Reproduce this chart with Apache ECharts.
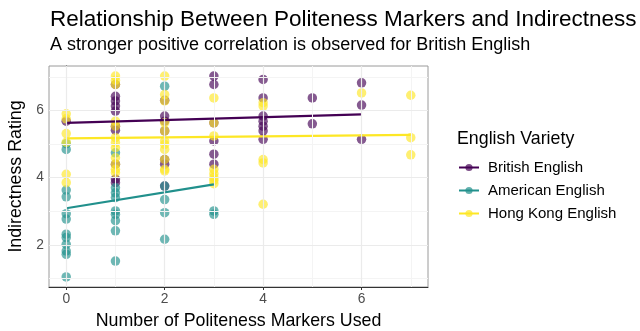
<!DOCTYPE html>
<html>
<head>
<meta charset="utf-8">
<script src="https://cdn.jsdelivr.net/npm/echarts@6/dist/echarts.min.js"></script>
<style>
  html, body { margin: 0; padding: 0; background: #fff; }
  #chart { width: 640px; height: 331px; }
</style>
</head>
<body>
<div id="chart"></div>
<script>
// 各英语变体的数据点（礼貌标记数量, 间接程度评分）
var variety_names = ['British English', 'American English', 'Hong Kong English'];
var variety_colors = ['#440154', '#21908C', '#FDE725'];

var british_x = [0, 1, 1, 1, 1, 1, 1, 1, 1, 1, 1, 2, 2, 2, 2, 2, 2, 2, 3, 3, 3, 3, 3, 3, 4, 4, 4, 4, 4, 4, 4, 5, 5, 6, 6, 6];
var british_y = [5.68, 6.77, 6.42, 6.28, 6.13, 5.98, 5.53, 5.41, 4.40, 3.96, 3.85, 6.30, 5.83, 5.68, 5.39, 4.54, 4.40, 3.75, 7.02, 6.77, 5.63, 5.09, 4.70, 4.40, 6.92, 6.37, 5.83, 5.68, 5.53, 5.39, 5.14, 6.37, 5.60, 6.82, 6.16, 5.14];

var american_x = [0, 0, 0, 0, 0, 0, 0, 0, 0, 0, 0, 0, 1, 1, 1, 1, 1, 1, 1, 1, 1, 2, 2, 2, 2, 2, 3, 3];
var american_y = [5.01, 4.84, 3.63, 3.43, 2.93, 2.77, 2.32, 2.22, 2.02, 1.82, 1.72, 1.05, 4.74, 3.70, 3.55, 3.41, 3.01, 2.91, 2.72, 2.42, 1.52, 6.72, 3.75, 3.35, 2.96, 2.17, 3.01, 2.91];

var hongkong_x = [0, 0, 0, 0, 0, 0, 1, 1, 1, 1, 1, 1, 1, 1, 1, 1, 1, 1, 2, 2, 2, 2, 2, 2, 2, 2, 2, 2, 2, 3, 3, 3, 3, 3, 3, 3, 3, 4, 4, 4, 4, 4, 6, 7, 7, 7];
var hongkong_y = [5.90, 5.75, 5.31, 5.05, 4.10, 3.85, 7.02, 6.90, 6.77, 5.68, 5.53, 5.19, 5.04, 4.89, 4.59, 4.40, 4.25, 4.15, 7.02, 6.47, 6.28, 5.63, 5.39, 5.09, 4.99, 4.84, 4.54, 4.25, 4.20, 6.37, 5.63, 5.24, 4.25, 4.12, 4.00, 3.92, 3.82, 6.23, 6.13, 4.54, 4.44, 3.21, 6.52, 6.45, 5.19, 4.68];

// 回归线（两端点）
var british_fit_x = [0, 6];
var british_fit_y = [5.63, 5.88];
var american_fit_x = [0, 3];
var american_fit_y = [3.09, 3.80];
var hongkong_fit_x = [0, 7];
var hongkong_fit_y = [5.17, 5.27];

// 刻度与网格线
var x_ticks = [0, 2, 4, 6];
var x_minor = [1, 3, 5, 7];
var y_ticks = [2, 4, 6];
var y_minor = [1, 3, 5, 7];

function pairs(xs, ys) {
    var out = [];
    for (var i = 0; i < xs.length; i++) {
        out.push([xs[i], ys[i]]);
    }
    return out;
}

var point_x = [british_x, american_x, hongkong_x];
var point_y = [british_y, american_y, hongkong_y];
var fit_x = [british_fit_x, american_fit_x, hongkong_fit_x];
var fit_y = [british_fit_y, american_fit_y, hongkong_fit_y];

var gridLines = [];
x_minor.forEach(function (v) { gridLines.push({ xAxis: v, lineStyle: { color: '#f4f4f4', width: 1 } }); });
y_minor.forEach(function (v) { gridLines.push({ yAxis: v, lineStyle: { color: '#f4f4f4', width: 1 } }); });
x_ticks.forEach(function (v) { gridLines.push({ xAxis: v, lineStyle: { color: '#ebebeb', width: 1.2 } }); });
y_ticks.forEach(function (v) { gridLines.push({ yAxis: v, lineStyle: { color: '#ebebeb', width: 1.2 } }); });

var series = [{
    type: 'line',
    data: [],
    silent: true,
    z: 0,
    markLine: {
        silent: true,
        symbol: ['none', 'none'],
        label: { show: false },
        animation: false,
        lineStyle: { type: 'solid' },
        data: gridLines
    }
}];

// 先放回归线，使图例图标为“线+点”
for (var i = 0; i < variety_names.length; i++) {
    series.push({
        name: variety_names[i],
        type: 'line',
        data: pairs(fit_x[i], fit_y[i]),
        symbol: 'circle',
        symbolSize: 9,
        showSymbol: false,
        z: 3,
        itemStyle: { color: variety_colors[i], opacity: 0.7 },
        lineStyle: { color: variety_colors[i], width: 2.2 }
    });
}
for (var i = 0; i < variety_names.length; i++) {
    series.push({
        name: variety_names[i],
        type: 'scatter',
        data: pairs(point_x[i], point_y[i]),
        symbolSize: 9.5,
        z: 2,
        itemStyle: { color: variety_colors[i], opacity: 0.65 }
    });
}

var oChart = echarts.init(document.getElementById('chart'));
var chartopt = {
    animation: false,
    backgroundColor: '#fff',
    textStyle: { fontFamily: 'Liberation Sans, Arial, sans-serif' },
    title: [{
        text: 'Relationship Between Politeness Markers and Indirectness',
        left: 45,
        top: 3,
        textStyle: { fontSize: 22.5, fontWeight: 'normal', color: '#000' }
    }, {
        text: 'A stronger positive correlation is observed for British English',
        left: 45,
        top: 31,
        textStyle: { fontSize: 18, fontWeight: 'normal', color: '#000' }
    }, {
        text: 'English Variety',
        left: 452,
        top: 125,
        textStyle: { fontSize: 17.8, fontWeight: 'normal', color: '#000' }
    }],
    legend: {
        orient: 'vertical',
        left: 458,
        top: 160,
        padding: 0,
        itemWidth: 20,
        itemHeight: 9,
        itemGap: 8,
        data: variety_names,
        textStyle: { fontSize: 15, color: '#000', padding: [0, 0, 0, 4] }
    },
    grid: {
        show: true,
        left: 49,
        right: 212,
        top: 66,
        bottom: 44,
        outerBoundsMode: 'none',
        containLabel: false,
        borderColor: '#9a9a9a',
        borderWidth: 1
    },
    xAxis: {
        type: 'value',
        min: -0.35,
        max: 7.35,
        name: 'Number of Politeness Markers Used',
        nameLocation: 'middle',
        nameGap: 25,
        nameTextStyle: { fontSize: 17.8, color: '#000' },
        axisLine: { show: true, lineStyle: { color: '#333', width: 1 } },
        axisTick: { show: true, customValues: x_ticks, length: 3, lineStyle: { color: '#333' } },
        axisLabel: { customValues: x_ticks, color: '#4d4d4d', fontSize: 13.8, margin: 5 },
        splitLine: { show: false }
    },
    yAxis: {
        type: 'value',
        min: 0.75,
        max: 7.32,
        name: 'Indirectness Rating',
        nameLocation: 'middle',
        nameGap: 22,
        nameTextStyle: { fontSize: 17.8, color: '#000' },
        axisLine: { show: true, lineStyle: { color: '#333', width: 1 } },
        axisTick: { show: true, customValues: y_ticks, length: 3, lineStyle: { color: '#333' } },
        axisLabel: { customValues: y_ticks, color: '#4d4d4d', fontSize: 13.8, margin: 5 },
        splitLine: { show: false }
    },
    series: series
};
oChart.setOption(chartopt);
</script>
</body>
</html>
